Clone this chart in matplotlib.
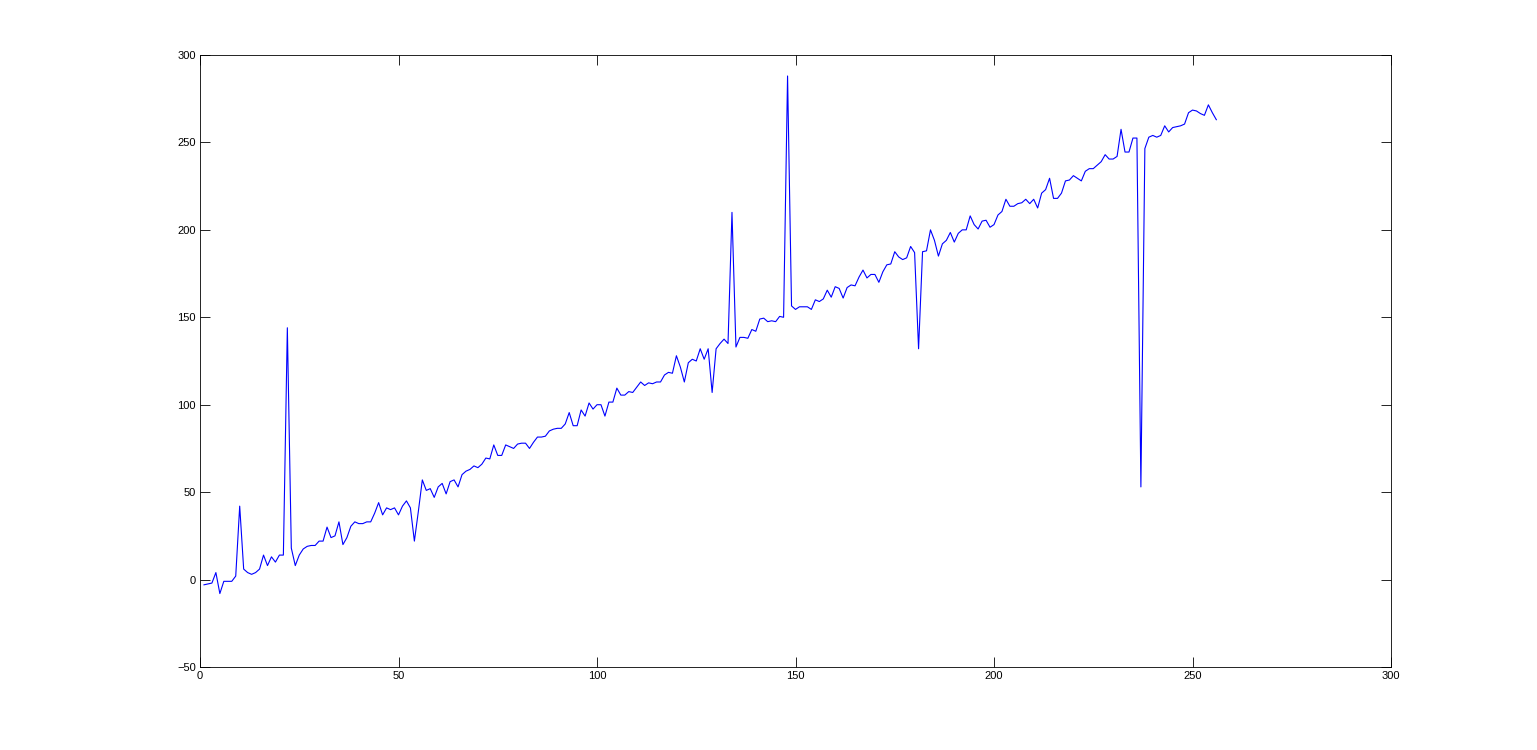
import matplotlib
matplotlib.use("Agg")
import matplotlib.pyplot as plt

# values, index 1..256
y_vals = [
    -3, -2.5, -2, 4, -8, -1, -1, -1, 2, 42,
    6, 4, 3, 4, 6, 14, 8, 13, 10, 14,
    14, 144, 18, 8, 14, 17.5, 19, 19.5, 19.5, 22,
    22, 30, 24, 25, 33, 20, 24, 30.5, 33, 32,
    32, 33, 33, 38, 44, 37, 41, 40, 41, 37,
    42, 45, 41, 22, 39, 57, 51, 52, 47, 53,
    55, 49, 56, 57, 53, 60, 62, 63, 65, 64,
    66, 69.5, 69, 77, 71, 71, 77, 76, 75, 77.5,
    78, 78, 75, 78.5, 81.5, 81.5, 82, 85, 86, 86.5,
    86.5, 89, 95.5, 88, 88, 97, 93.5, 101, 97.5, 100,
    100, 93.5, 101.5, 101.5, 109.5, 105.5, 105.5, 107.5, 107, 110,
    113, 111, 112.5, 112, 113, 113, 117, 118.5, 118, 128,
    121.5, 113, 124, 126, 125, 132, 126, 132, 107, 132,
    135, 137.5, 135, 210, 133, 138.5, 138.5, 138, 143, 142,
    149, 149.5, 147.5, 148, 147.5, 150.5, 150, 288, 156.5, 154.5,
    156, 156, 156, 154.5, 160, 159, 160.5, 165.5, 161.5, 167.5,
    166.5, 161, 167, 168.5, 168, 173, 177, 172.5, 174.5, 174.5,
    170, 176, 180, 180.5, 187.5, 184.5, 183, 184, 190.5, 187,
    132, 187.5, 188, 200, 194, 185, 192, 194, 198.5, 193,
    198, 200, 200, 208, 203, 200.5, 205, 205.5, 201.5, 203,
    208.5, 210.5, 217.5, 213.5, 213.5, 215, 215.5, 217.5, 215, 217.5,
    212.5, 221, 223, 229.5, 218, 218, 221, 228, 228.5, 231,
    229.5, 228, 233.5, 235, 235, 237, 239, 243, 240.5, 240.5,
    242, 257.5, 244.5, 244.5, 252.5, 252.5, 53, 246.5, 253, 254,
    253, 254, 259.5, 256, 258.5, 259, 259.5, 260.5, 267, 268.5,
    268, 266.5, 265.5, 271.5, 267, 263,
]
x_vals = list(range(1, len(y_vals) + 1))

x_ticks = [0, 50, 100, 150, 200, 250, 300]
y_ticks = [-50, 0, 50, 100, 150, 200, 250, 300]

plt.rcParams['font.family'] = ['Liberation Sans', 'DejaVu Sans']

fig = plt.figure(figsize=(15.37, 7.5), dpi=100)
ax = fig.add_axes([200 / 1537, 1 - 667 / 750, 1191 / 1537, 612 / 750])

ax.plot(x_vals, y_vals, color=(0, 0, 1), linewidth=0.8)

ax.set_xlim(0, 300)
ax.set_ylim(-50, 300)
ax.set_xticks(x_ticks)
ax.set_yticks(y_ticks)
ax.tick_params(direction='in', length=7, width=0.6, labelsize=8,
               top=True, right=True, pad=3)
for s in ax.spines.values():
    s.set_linewidth(0.6)

fig.savefig("out.png", dpi=100)
